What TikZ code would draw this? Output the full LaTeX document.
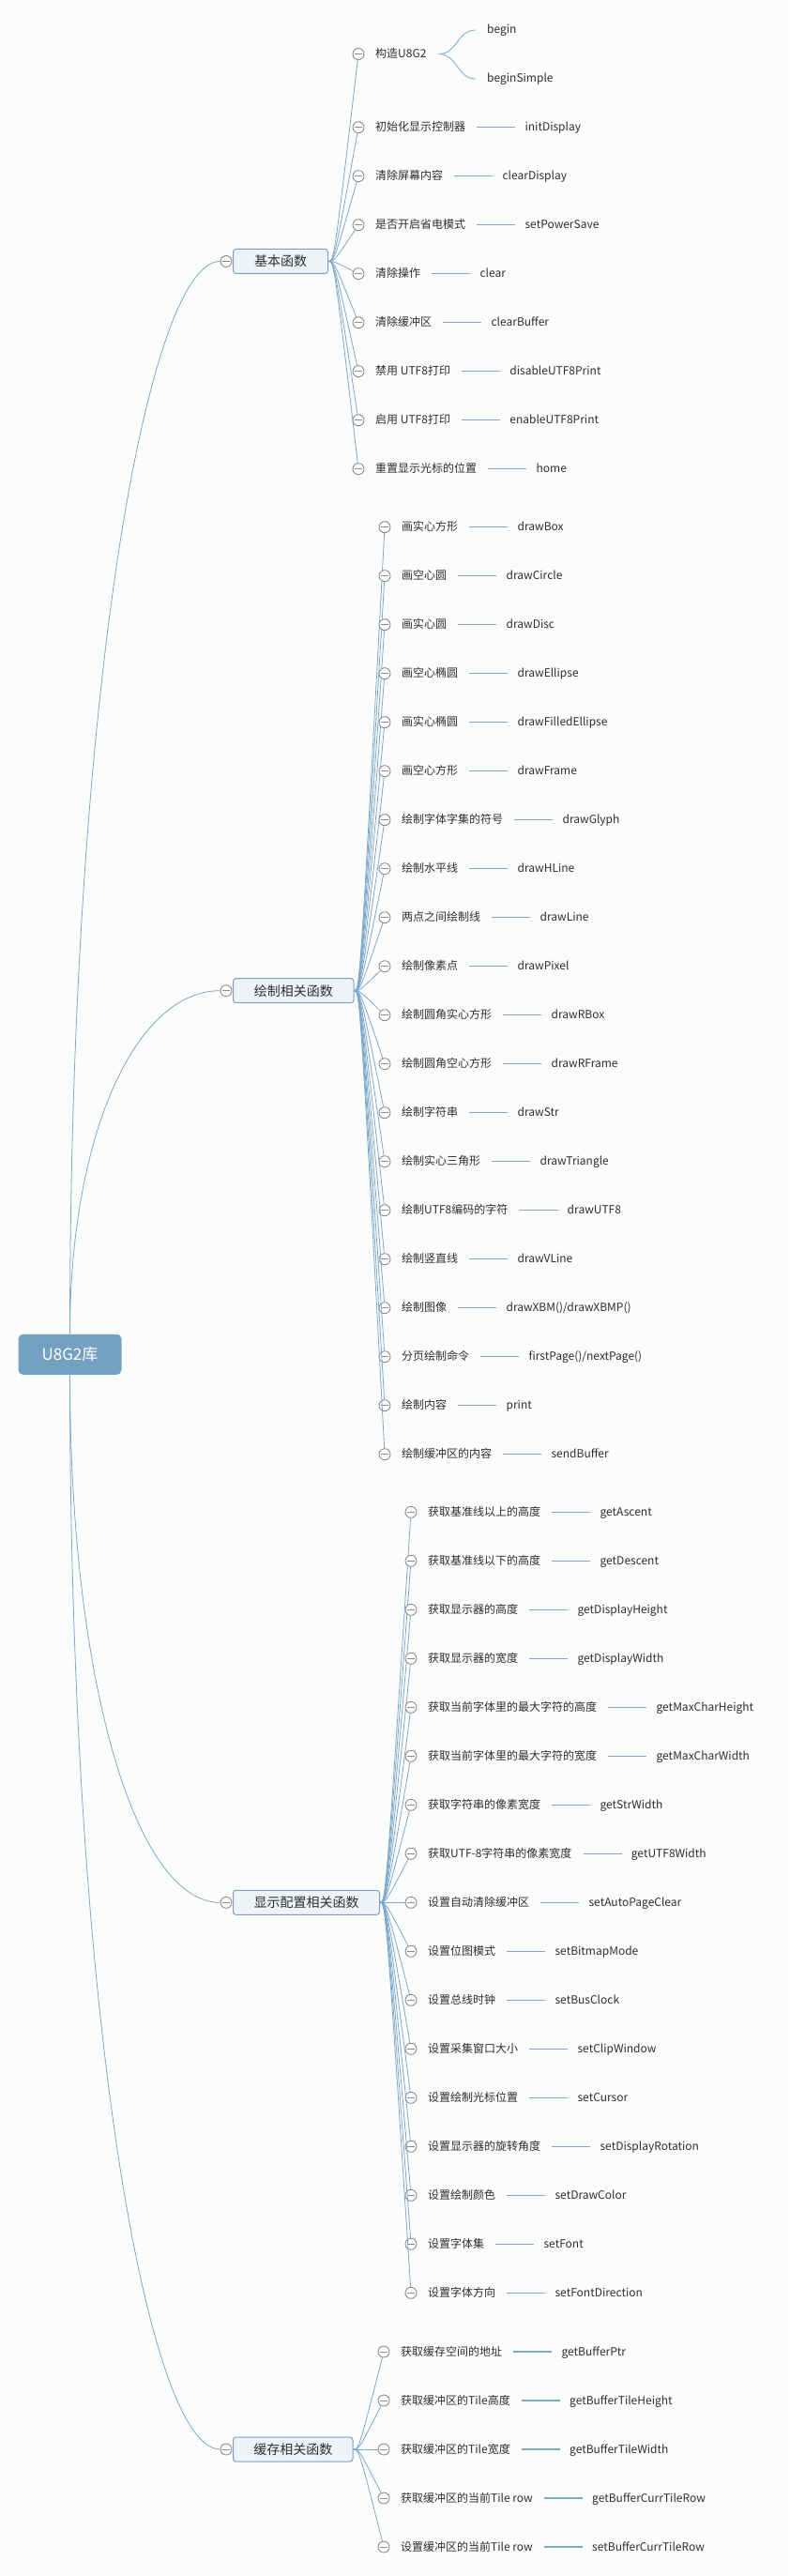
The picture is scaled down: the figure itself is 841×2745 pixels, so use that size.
\documentclass[tikz,border=0pt]{standalone}
\usepackage{fontspec}
\setmainfont{Noto Sans CJK SC}
\usetikzlibrary{calc}
\definecolor{bg}{HTML}{FBFCFC}
\definecolor{lnk}{HTML}{7EA8CA}
\definecolor{boxln}{HTML}{78A2C5}
\definecolor{boxfill}{HTML}{EEF3F7}
\definecolor{rootfill}{HTML}{74A1C2}
\definecolor{txt}{HTML}{2E2E2E}
\definecolor{tog}{HTML}{8C8C8C}
\tikzset{
  branch/.style={draw=lnk, line width=0.8pt},
  leafline/.style={draw=lnk, line width=1.1pt, shorten <=12pt, shorten >=10pt},
  toggle/.style={circle, draw=tog, fill=white, line width=0.9pt, minimum size=12pt, inner sep=0pt,
    path picture={\draw[tog, line width=0.9pt] ([xshift=-3.6pt]path picture bounding box.center) -- ([xshift=3.6pt]path picture bounding box.center);}},
  kidtext/.style={anchor=west, inner sep=0pt, text=txt, font=\fontsize{12}{14}\selectfont, text height=10pt, text depth=2pt},
  leaftext/.style={kidtext},
  groupbox/.style={rectangle, rounded corners=3pt, draw=boxln, fill=boxfill, line width=1pt, minimum height=26pt, inner xsep=0pt, anchor=west, text=txt, font=\fontsize{14}{16}\selectfont},
  rootbox/.style={rectangle, rounded corners=5pt, fill=rootfill, minimum width=110pt, minimum height=43pt, text=white, font=\fontsize{17}{19}\selectfont},
}
% #1 parent, #2 name, #3 circle x, #4 y, #5 text
\newcommand{\kidonly}[5]{%
  \node[toggle] (#2o) at (#3,#4) {};
  \draw[branch] (#1.east) .. controls +(6,0) .. (#2o);
  \node[kidtext] (#2) at (#3+18,#4) {#5};
}
% #6 leaf text
\newcommand{\kid}[6]{%
  \kidonly{#1}{#2}{#3}{#4}{#5}
  \node[leaftext] (#2l) at ($(#2.east)+(63,0)$) {#6};
  \draw[leafline] (#2) -- (#2l);
}
\begin{document}
\begin{tikzpicture}[x=1pt,y=-1pt]
\path[use as bounding box, fill=bg] (0,0) rectangle (841,2745);

% root
\node[rootbox] (root) at (74.5,1443.3) {U8G2库};

% group boxes and their toggles
\node[groupbox, minimum width=101pt] (g1) at (248,278.5) {基本函数};
\node[toggle] (g1o) at (241,278.5) {};
\node[groupbox, minimum width=128.5pt] (g2) at (248,1055.7) {绘制相关函数};
\node[toggle] (g2o) at (241,1055.7) {};
\node[groupbox, minimum width=156pt] (g3) at (248,2027.3) {显示配置相关函数};
\node[toggle] (g3o) at (241,2027.3) {};
\node[groupbox, minimum width=127.5pt] (g4) at (248,2610) {缓存相关函数};
\node[toggle] (g4o) at (241,2610) {};

% root curves
\draw[branch] (root.north) .. controls ($(root.north)!0.6!(root.north |- g1o)$) and ($(g1o)!0.5!(root.north |- g1o)$) .. (g1o);
\draw[branch] (root.north) .. controls ($(root.north)!0.58!(root.north |- g2o)$) and ($(g2o)!0.58!(root.north |- g2o)$) .. (g2o);
\draw[branch] (root.south) .. controls ($(root.south)!0.58!(root.south |- g3o)$) and ($(g3o)!0.58!(root.south |- g3o)$) .. (g3o);
\draw[branch] (root.south) .. controls ($(root.south)!0.6!(root.south |- g4o)$) and ($(g4o)!0.5!(root.south |- g4o)$) .. (g4o);

% ---------- group 1
\kidonly{g1}{a1}{382}{57.5}{构造U8G2}
\node[leaftext] (a1x) at (519,32) {begin};
\node[leaftext] (a1y) at (519,84) {beginSimple};
\coordinate (a1s) at ($(a1.east)+(13,0)$);
\coordinate (a1xe) at ($(a1x.west)+(-12,0)$);
\coordinate (a1ye) at ($(a1y.west)+(-12,0)$);
\draw[branch] (a1s) .. controls +(20,0) and +(-20,0) .. (a1xe);
\draw[branch] (a1s) .. controls +(20,0) and +(-20,0) .. (a1ye);
\kid{g1}{a2}{382}{135.7}{初始化显示控制器}{initDisplay}
\kid{g1}{a3}{382}{187.7}{清除屏幕内容}{clearDisplay}
\kid{g1}{a4}{382}{239.7}{是否开启省电模式}{setPowerSave}
\kid{g1}{a5}{382}{291.7}{清除操作}{clear}
\kid{g1}{a6}{382}{343.7}{清除缓冲区}{clearBuffer}
\kid{g1}{a7}{382}{395.7}{禁用 UTF8打印}{disableUTF8Print}
\kid{g1}{a8}{382}{447.7}{启用 UTF8打印}{enableUTF8Print}
\kid{g1}{a9}{382}{499.7}{重置显示光标的位置}{home}

% ---------- group 2
\kid{g2}{b1}{410}{561.7}{画实心方形}{drawBox}
\kid{g2}{b2}{410}{613.7}{画空心圆}{drawCircle}
\kid{g2}{b3}{410}{665.7}{画实心圆}{drawDisc}
\kid{g2}{b4}{410}{717.7}{画空心椭圆}{drawEllipse}
\kid{g2}{b5}{410}{769.7}{画实心椭圆}{drawFilledEllipse}
\kid{g2}{b6}{410}{821.7}{画空心方形}{drawFrame}
\kid{g2}{b7}{410}{873.7}{绘制字体字集的符号}{drawGlyph}
\kid{g2}{b8}{410}{925.7}{绘制水平线}{drawHLine}
\kid{g2}{b9}{410}{977.7}{两点之间绘制线}{drawLine}
\kid{g2}{b10}{410}{1029.7}{绘制像素点}{drawPixel}
\kid{g2}{b11}{410}{1081.7}{绘制圆角实心方形}{drawRBox}
\kid{g2}{b12}{410}{1133.7}{绘制圆角空心方形}{drawRFrame}
\kid{g2}{b13}{410}{1185.7}{绘制字符串}{drawStr}
\kid{g2}{b14}{410}{1237.7}{绘制实心三角形}{drawTriangle}
\kid{g2}{b15}{410}{1289.7}{绘制UTF8编码的字符}{drawUTF8}
\kid{g2}{b16}{410}{1341.7}{绘制竖直线}{drawVLine}
\kid{g2}{b17}{410}{1393.7}{绘制图像}{drawXBM()/drawXBMP()}
\kid{g2}{b18}{410}{1445.7}{分页绘制命令}{firstPage()/nextPage()}
\kid{g2}{b19}{410}{1497.7}{绘制内容}{print}
\kid{g2}{b20}{410}{1549.7}{绘制缓冲区的内容}{sendBuffer}

% ---------- group 3
\kid{g3}{c1}{438}{1611.3}{获取基准线以上的高度}{getAscent}
\kid{g3}{c2}{438}{1663.3}{获取基准线以下的高度}{getDescent}
\kid{g3}{c3}{438}{1715.3}{获取显示器的高度}{getDisplayHeight}
\kid{g3}{c4}{438}{1767.3}{获取显示器的宽度}{getDisplayWidth}
\kid{g3}{c5}{438}{1819.3}{获取当前字体里的最大字符的高度}{getMaxCharHeight}
\kid{g3}{c6}{438}{1871.3}{获取当前字体里的最大字符的宽度}{getMaxCharWidth}
\kid{g3}{c7}{438}{1923.3}{获取字符串的像素宽度}{getStrWidth}
\kid{g3}{c8}{438}{1975.3}{获取UTF-8字符串的像素宽度}{getUTF8Width}
\kid{g3}{c9}{438}{2027.3}{设置自动清除缓冲区}{setAutoPageClear}
\kid{g3}{c10}{438}{2079.3}{设置位图模式}{setBitmapMode}
\kid{g3}{c11}{438}{2131.3}{设置总线时钟}{setBusClock}
\kid{g3}{c12}{438}{2183.3}{设置采集窗口大小}{setClipWindow}
\kid{g3}{c13}{438}{2235.3}{设置绘制光标位置}{setCursor}
\kid{g3}{c14}{438}{2287.3}{设置显示器的旋转角度}{setDisplayRotation}
\kid{g3}{c15}{438}{2339.3}{设置绘制颜色}{setDrawColor}
\kid{g3}{c16}{438}{2391.3}{设置字体集}{setFont}
\kid{g3}{c17}{438}{2443.3}{设置字体方向}{setFontDirection}

% ---------- group 4
\kid{g4}{d1}{409}{2506}{获取缓存空间的地址}{getBufferPtr}
\kid{g4}{d2}{409}{2558}{获取缓冲区的Tile高度}{getBufferTileHeight}
\kid{g4}{d3}{409}{2610}{获取缓冲区的Tile宽度}{getBufferTileWidth}
\kid{g4}{d4}{409}{2662}{获取缓冲区的当前Tile row}{getBufferCurrTileRow}
\kid{g4}{d5}{409}{2714}{设置缓冲区的当前Tile row}{setBufferCurrTileRow}
\end{tikzpicture}
\end{document}
